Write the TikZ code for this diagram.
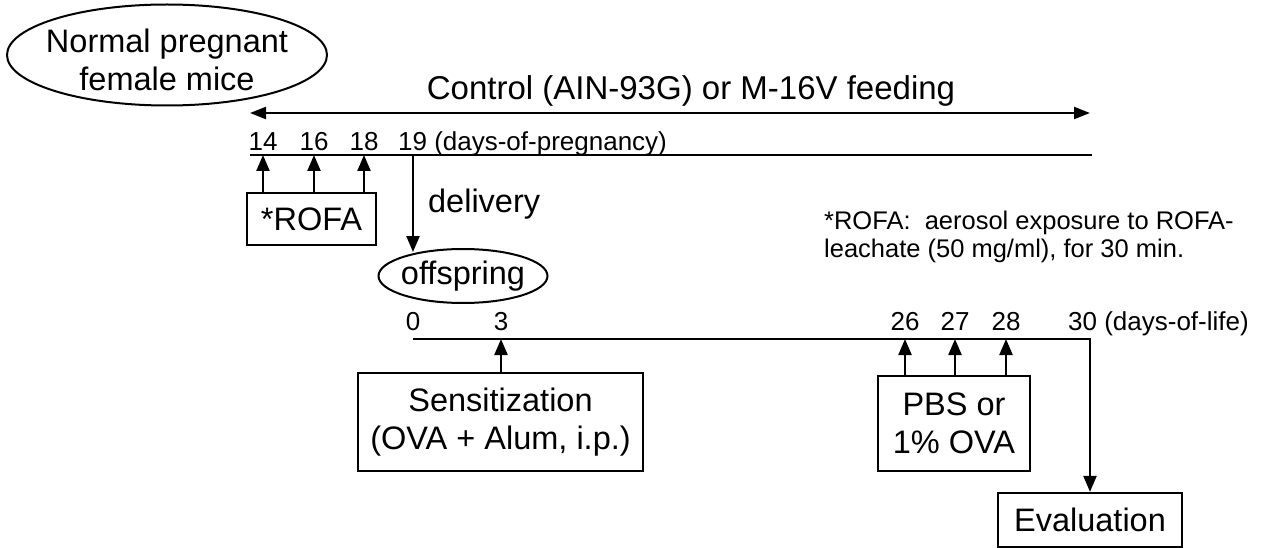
\documentclass[tikz,border=0pt]{standalone}
\usepackage{fontspec}
\setmainfont{Liberation Sans}
\usetikzlibrary{arrows.meta,shapes.geometric}
\begin{document}
\begin{tikzpicture}[x=1pt,y=-1pt,
  line width=2.3pt,
  big/.style={font=\fontsize{32.5}{37.5}\selectfont},
  day/.style={font=\fontsize{26}{30}\selectfont, inner sep=0pt, anchor=base},
  oval/.style={draw, ellipse, line width=2pt, inner sep=0pt},
  stepbox/.style={draw, rectangle, line width=2.3pt, big, align=center, inner sep=0pt},
  arr/.style={-{Triangle[length=16pt,width=13pt]}},
  darr/.style={{Triangle[length=16pt,width=12pt]}-{Triangle[length=16pt,width=12pt]}}
]
\useasboundingbox (0,0) rectangle (1265,548);

% mother
\node[oval, minimum width=320pt, minimum height=101pt] (mother) at (167,55) {};
\node[big, align=center, inner sep=0pt] (mothertxt) at (167,60) {Normal pregnant\\female mice};

% feeding
\coordinate (fl) at (250,113);
\coordinate (fr) at (1090,113);
\draw[darr] (fl) -- (fr);
\node[font=\fontsize{33}{38}\selectfont, inner sep=0pt, anchor=base] (feed) at (691,100) {Control (AIN-93G) or M-16V feeding};

% pregnancy timeline
\coordinate (ps) at (250,155);
\coordinate (pe) at (1092,155);
\draw (ps) -- (pe);
\coordinate (p14) at (263,155);
\coordinate (p16) at (314,155);
\coordinate (p18) at (364,155);
\coordinate (p19) at (413,155);
\node[day] (l14) at (263,151) {14};
\node[day] (l16) at (314,151) {16};
\node[day] (l18) at (364,151) {18};
\node[day, anchor=base west] (l19) at (397,151) {19 (days-of-pregnancy)};

\node[stepbox, minimum width=129pt, minimum height=52pt] (rofa) at (311.5,219) {*ROFA};
\foreach \p in {p14,p16,p18} \draw[arr] (rofa.north -| \p) -- (\p);

% delivery
\node[oval, big, minimum width=169pt, minimum height=54pt, inner xsep=-3pt] (off) at (463,276) {offspring};
\coordinate (dl) at (413,252);
\draw[arr] (p19) -- (dl);
\node[big, inner sep=0pt, anchor=base west] (deliv) at (427,212) {delivery};

% footnote
\node[font=\fontsize{25.5}{28}\selectfont, align=left, inner sep=0pt, anchor=north west] (note) at (823,209.5) {*ROFA:\ \ aerosol exposure to ROFA-\\leachate (50 mg/ml), for 30 min.};

% life timeline
\coordinate (ls) at (413,339);
\coordinate (le) at (1090,339);
\coordinate (d3) at (501,339);
\coordinate (d26) at (905,339);
\coordinate (d27) at (955,339);
\coordinate (d28) at (1006,339);
\node[stepbox, minimum width=184pt, minimum height=54pt] (eval) at (1090,520) {Evaluation};
\draw[arr] (ls) -- (le) -- (eval.north);
\node[day] (l0) at (413,330) {0};
\node[day] (l3) at (501,330) {3};
\node[day] (l26) at (905,330) {26};
\node[day] (l27) at (955,330) {27};
\node[day] (l28) at (1006,330) {28};
\node[day, anchor=base west] (l30) at (1067,330) {30 (days-of-life)};

\node[stepbox, minimum width=285pt, minimum height=98pt] (sens) at (500.5,422) {Sensitization\\(OVA + Alum, i.p.)};
\draw[arr] (sens.north -| d3) -- (d3);
\node[stepbox, minimum width=152pt, minimum height=95pt] (pbs) at (954,423.5) {PBS or\\1\% OVA};
\foreach \p in {d26,d27,d28} \draw[arr] (pbs.north -| \p) -- (\p);
\end{tikzpicture}
\end{document}
